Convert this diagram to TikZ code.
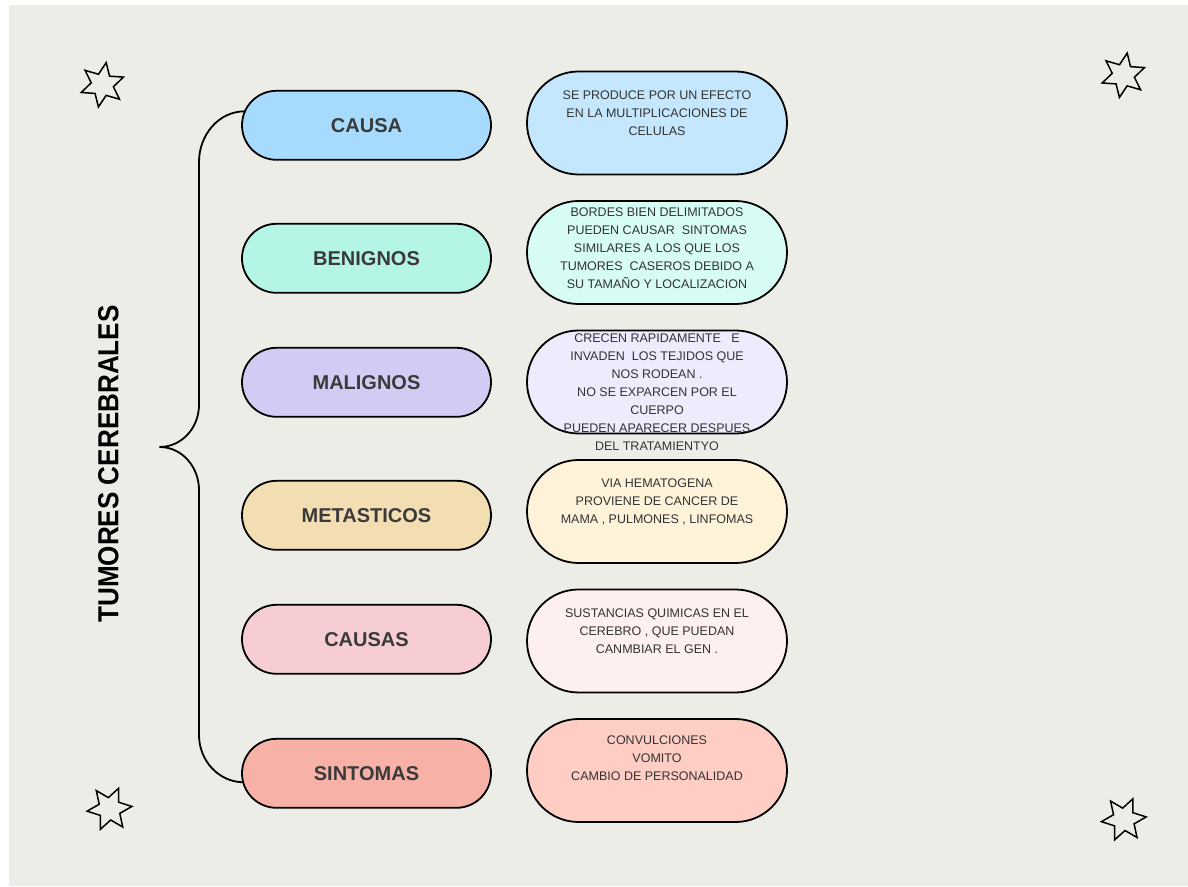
\documentclass[tikz,border=0pt]{standalone}
\usepackage{fontspec}
\setmainfont{Liberation Sans}
\newfontfamily\titlefont[FakeStretch=0.9]{Liberation Sans}
\usepackage{xcolor}
\usepackage{tikz}
\usetikzlibrary{positioning,shapes.geometric}

\definecolor{paper}{HTML}{EDEDE8}
\definecolor{labelgray}{HTML}{3A3A3A}
\definecolor{textgray}{HTML}{333333}
\definecolor{causafill}{HTML}{A7DBFD}
\definecolor{benignosfill}{HTML}{B5F5E6}
\definecolor{malignosfill}{HTML}{D4CBF5}
\definecolor{metasticosfill}{HTML}{F3DEB4}
\definecolor{causasfill}{HTML}{F5CDD3}
\definecolor{sintomasfill}{HTML}{F7B1A6}
\definecolor{causalight}{HTML}{C4E7FD}
\definecolor{benignoslight}{HTML}{D7FCF3}
\definecolor{malignoslight}{HTML}{EEEBFD}
\definecolor{metasticoslight}{HTML}{FEF3D9}
\definecolor{causaslight}{HTML}{FEEFF0}
\definecolor{sintomaslight}{HTML}{FECDC4}

\begin{document}
\begin{tikzpicture}[x=1pt,y=1pt,
pillnode/.style={rectangle, draw=black, line width=1.8pt, rounded corners=34.5pt, minimum width=249pt, minimum height=69pt, inner sep=0pt, outer sep=0pt, text=labelgray, font=\fontsize{20}{24}\selectfont\bfseries},
detailnode/.style={rectangle, draw=black, line width=1.8pt, rounded corners=51.5pt, minimum width=260pt, minimum height=103pt, inner sep=0pt, outer sep=0pt},
detailtext/.style={align=center, inner sep=0pt, text=textgray, font=\fontsize{12.5}{18}\selectfont},
starnode/.style={star, star points=6, star point ratio=2, draw=black, line width=1.5pt, minimum size=45pt, inner sep=0pt},
]
%Background
\fill[white] (0,0) rectangle (1188,886);
\fill[paper] (9,0) rectangle (1188,881);
\useasboundingbox (0,0) rectangle (1188,886);

%Nodes
\node[rotate=90, font=\titlefont\fontsize{29}{34}\selectfont\bfseries] (Tumores cerebrales) at (108.5,422) {TUMORES CEREBRALES};

\node[pillnode, fill=causafill] (Causa) at (366.5,760.7) {CAUSA};
\node[pillnode, fill=benignosfill] (Benignos) [below=64pt of Causa] {BENIGNOS};
\node[pillnode, fill=malignosfill] (Malignos) [below=55pt of Benignos] {MALIGNOS};
\node[pillnode, fill=metasticosfill] (Metasticos) [below=64pt of Malignos] {METASTICOS};
\node[pillnode, fill=causasfill] (Causas) [below=55pt of Metasticos] {CAUSAS};
\node[pillnode, fill=sintomasfill] (Sintomas) [below=65pt of Causas] {SINTOMAS};

\node[detailnode, fill=causalight] (Causa detail) at (657,763) {};
\node[detailnode, fill=benignoslight] (Benignos detail) [below=26.5pt of Causa detail] {};
\node[detailnode, fill=malignoslight] (Malignos detail) [below=26.5pt of Benignos detail] {};
\node[detailnode, fill=metasticoslight] (Metasticos detail) [below=26.5pt of Malignos detail] {};
\node[detailnode, fill=causaslight] (Causas detail) [below=26.5pt of Metasticos detail] {};
\node[detailnode, fill=sintomaslight] (Sintomas detail) [below=26.5pt of Causas detail] {};

\node[detailtext] (Causa text) [below=19pt of Causa detail.north] {SE PRODUCE POR UN EFECTO\\EN LA MULTIPLICACIONES DE\\CELULAS};
\node[detailtext] (Benignos text) [below=7pt of Benignos detail.north] {BORDES BIEN DELIMITADOS\\PUEDEN CAUSAR\ \ SINTOMAS\\SIMILARES A LOS QUE LOS\\TUMORES\ \ CASEROS DEBIDO A\\SU TAMAÑO Y LOCALIZACION};
\node[detailtext] (Malignos text) [below=3pt of Malignos detail.north] {CRECEN RAPIDAMENTE\ \ \ E\\INVADEN\ \ LOS TEJIDOS QUE\\NOS RODEAN .\\NO SE EXPARCEN POR EL\\CUERPO\\PUEDEN APARECER DESPUES\\DEL TRATAMIENTYO};
\node[detailtext] (Metasticos text) [below=19pt of Metasticos detail.north] {VIA HEMATOGENA\\PROVIENE DE CANCER DE\\MAMA , PULMONES , LINFOMAS};
\node[detailtext] (Causas text) [below=19pt of Causas detail.north] {SUSTANCIAS QUIMICAS EN EL\\CEREBRO , QUE PUEDAN\\CANMBIAR EL GEN .};
\node[detailtext] (Sintomas text) [below=17pt of Sintomas detail.north] {CONVULCIONES\\VOMITO\\CAMBIO DE PERSONALIDAD};

\node[starnode, shape border rotate=-10] (Star top left) at (102.3,801.2) {};
\node[starnode, shape border rotate=-10] (Star top right) at (1123.3,810.7) {};
\node[starnode, shape border rotate=-24] (Star bottom left) at (109.5,77.2) {};
\node[starnode, shape border rotate=-24] (Star bottom right) at (1123.8,66.7) {};

%Lines
\coordinate (Brace tip) at (159.5,439);
\draw[line width=1.8pt] ([xshift=3pt,yshift=14pt]Causa.west) to[out=180,in=90] (199,724) -- (199,481)
  to[out=-90,in=0] (Brace tip) to[out=0,in=90] (199,396) -- (199,151)
  to[out=-90,in=180] ([xshift=2pt,yshift=-9pt]Sintomas.west);
\end{tikzpicture}
\end{document}
